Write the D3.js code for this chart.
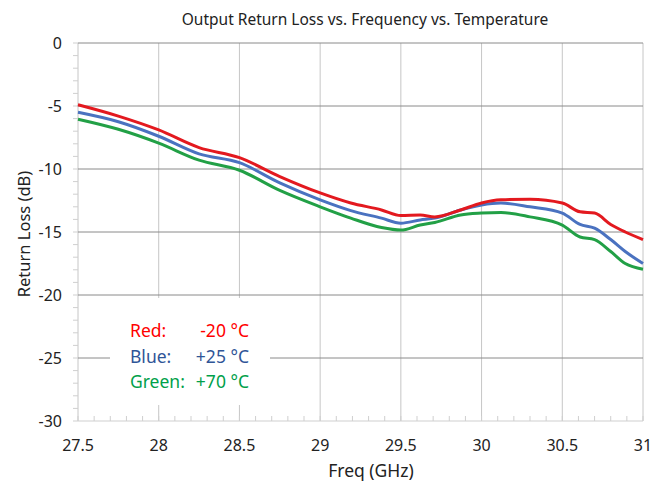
<!DOCTYPE html>
<html>
<head>
<meta charset="utf-8">
<script src="https://cdn.jsdelivr.net/npm/d3@7"></script>
<style>
  body { margin: 0; background: #fff; }
  text { font-family: "Noto Sans", sans-serif; }
</style>
</head>
<body>
<div id="chart"></div>
<script>
// data
var freq = [27.5, 27.75, 28, 28.25, 28.5, 28.75, 29, 29.19, 29.38, 29.5, 29.62, 29.71, 29.87, 30, 30.12, 30.3, 30.5, 30.61, 30.7, 30.8, 30.89, 31]
var redVals = [-4.9, -5.8, -6.9, -8.3, -9.1, -10.6, -11.9, -12.7, -13.25, -13.7, -13.65, -13.8, -13.25, -12.7, -12.45, -12.4, -12.7, -13.4, -13.5, -14.4, -15.0, -15.6]
var blueVals = [-5.5, -6.25, -7.4, -8.8, -9.5, -11.1, -12.45, -13.3, -13.9, -14.3, -14.05, -13.9, -13.25, -12.85, -12.7, -13.0, -13.5, -14.4, -14.7, -15.6, -16.55, -17.5]
var greenVals = [-6.05, -6.85, -7.95, -9.3, -10.1, -11.7, -13.0, -13.9, -14.65, -14.85, -14.45, -14.25, -13.65, -13.5, -13.45, -13.8, -14.45, -15.4, -15.6, -16.55, -17.5, -17.95]
var xTicks = [27.5, 28, 28.5, 29, 29.5, 30, 30.5, 31]
var yTicks = [0, -5, -10, -15, -20, -25, -30]
var legendNames = ["Red:", "Blue:", "Green:"]
var legendTemps = ["-20 °C", "+25 °C", "+70 °C"]

var lineColors = ["#e3191f", "#4a72c0", "#22a046"]
var textColors = ["#ff0000", "#2f5597", "#00a04a"]

var W = 665, H = 483
// plot box (don't call it "top", that's window.top)
var pLeft = 78, pRight = 643, pTop = 43, pBottom = 421

var svg = d3.select("#chart").append("svg")
svg.attr("width", W).attr("height", H)

var x = d3.scaleLinear().domain([27.5, 31]).range([pLeft, pRight])
var y = d3.scaleLinear().domain([-30, 0]).range([pBottom, pTop])

// vertical grid (light)
svg.selectAll("line.vgrid")
   .data(xTicks)
   .enter()
   .append("line")
   .attr("class", "vgrid")
   .attr("x1", function(d) { return x(d) })
   .attr("x2", function(d) { return x(d) })
   .attr("y1", pTop)
   .attr("y2", pBottom)
   .attr("stroke", "#c6c6c6")
   .attr("stroke-width", 1)

// horizontal grid (darker), bottom one is the light axis line
svg.selectAll("line.hgrid")
   .data(yTicks)
   .enter()
   .append("line")
   .attr("class", "hgrid")
   .attr("x1", pLeft)
   .attr("x2", pRight)
   .attr("y1", function(d) { return y(d) })
   .attr("y2", function(d) { return y(d) })
   .attr("stroke", function(d) { return d == -30 ? "#cfcfcf" : "#8a8a8a" })
   .attr("stroke-width", 1)

// minor ticks
svg.selectAll("line.ymin")
   .data(d3.range(-30, 1, 1))
   .enter()
   .append("line")
   .attr("class", "ymin")
   .attr("x1", pLeft - 5)
   .attr("x2", pLeft)
   .attr("y1", function(d) { return y(d) })
   .attr("y2", function(d) { return y(d) })
   .attr("stroke", "#cfcfcf")

svg.selectAll("line.xmin")
   .data(d3.range(0, 36).map(function(i) { return 27.5 + i * 0.1 }))
   .enter()
   .append("line")
   .attr("class", "xmin")
   .attr("x1", function(d) { return x(d) })
   .attr("x2", function(d) { return x(d) })
   .attr("y1", pBottom - 5)
   .attr("y2", pBottom)
   .attr("stroke", "#cfcfcf")

// legend box hides grid behind it
svg.append("rect")
   .attr("x", 110).attr("y", 298)
   .attr("width", 160).attr("height", 107)
   .attr("fill", "#fff")

var legend = svg.selectAll("g.leg")
                .data(legendNames)
                .enter()
                .append("g")
                .attr("class", "leg")
legend.append("text")
      .text(function(d) { return d })
      .attr("x", 130)
      .attr("y", function(d, i) { return 337 + i * 25.5 })
      .attr("fill", function(d, i) { return textColors[i] })
      .attr("font-size", 17.5)
legend.append("text")
      .text(function(d, i) { return legendTemps[i] })
      .attr("x", 249)
      .attr("y", function(d, i) { return 337 + i * 25.5 })
      .attr("text-anchor", "end")
      .attr("fill", function(d, i) { return textColors[i] })
      .attr("font-size", 17.5)

// curves
var line = d3.line()
             .x(function(d, i) { return x(freq[i]) })
             .y(function(d) { return y(d) })
             .curve(d3.curveMonotoneX)

svg.selectAll("path.series")
   .data([greenVals, blueVals, redVals])
   .enter()
   .append("path")
   .attr("class", "series")
   .attr("d", line)
   .attr("fill", "none")
   .attr("stroke", function(d, i) { return lineColors[2 - i] })
   .attr("stroke-width", 3)

// tick labels
svg.selectAll("text.xt")
   .data(xTicks)
   .enter()
   .append("text")
   .attr("class", "xt")
   .text(function(d) { return d })
   .attr("x", function(d) { return x(d) })
   .attr("y", 451)
   .attr("text-anchor", "middle")
   .attr("font-size", 16)
   .attr("fill", "#222")

svg.selectAll("text.yt")
   .data(yTicks)
   .enter()
   .append("text")
   .attr("class", "yt")
   .text(function(d) { return d })
   .attr("x", 62)
   .attr("y", function(d) { return y(d) + 6 })
   .attr("text-anchor", "end")
   .attr("font-size", 16)
   .attr("fill", "#222")

// titles
svg.append("text")
   .text("Output Return Loss vs. Frequency vs. Temperature")
   .attr("x", 365).attr("y", 25)
   .attr("text-anchor", "middle")
   .attr("font-size", 15.5)
   .attr("fill", "#222")

svg.append("text")
   .text("Freq (GHz)")
   .attr("x", 371).attr("y", 477)
   .attr("text-anchor", "middle")
   .attr("font-size", 17.5)
   .attr("fill", "#222")

svg.append("text")
   .text("Return Loss (dB)")
   .attr("transform", "translate(30,234) rotate(-90)")
   .attr("text-anchor", "middle")
   .attr("font-size", 16.5)
   .attr("fill", "#222")
</script>
</body>
</html>
